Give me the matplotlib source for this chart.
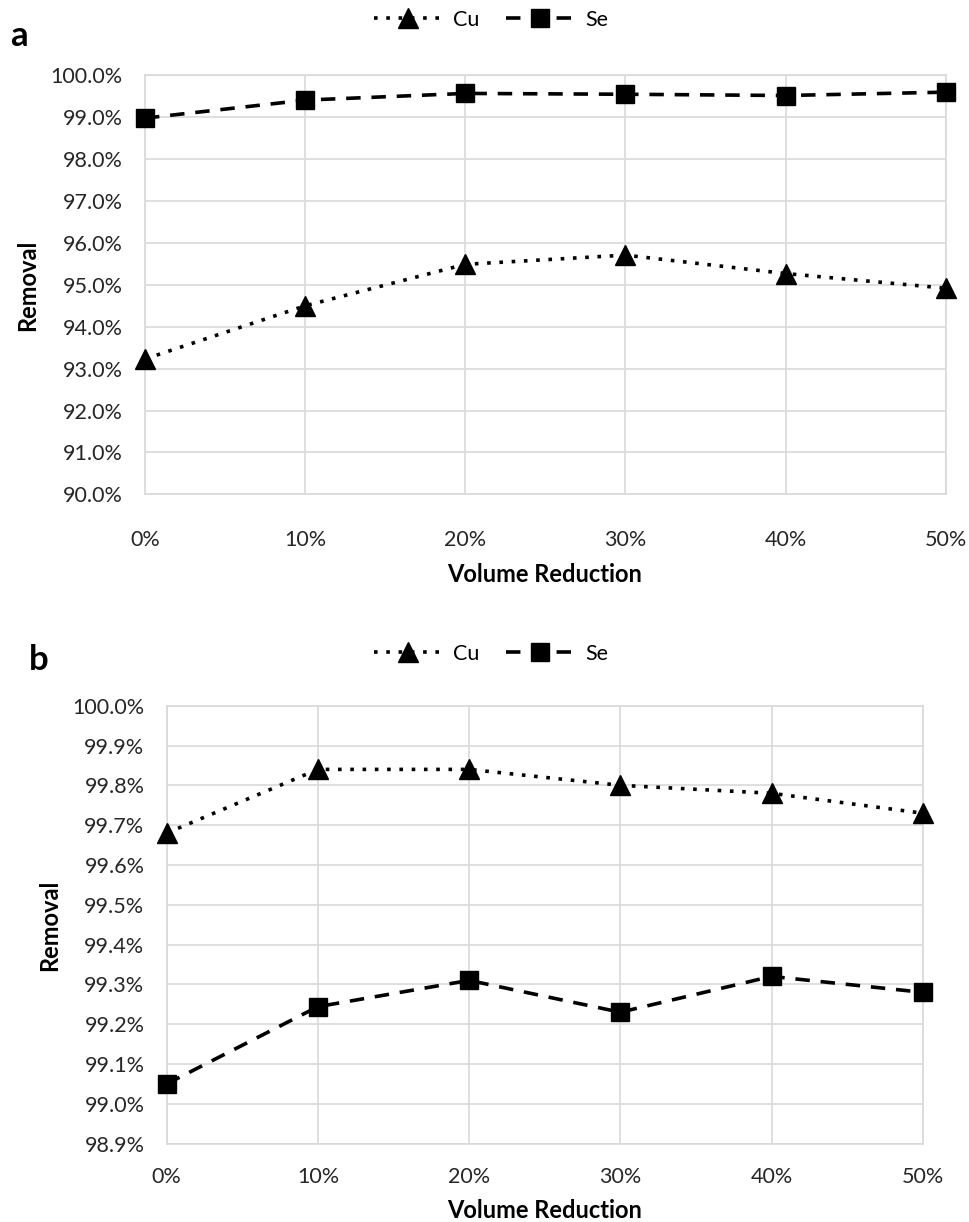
import matplotlib.pyplot as plt
from matplotlib.ticker import FuncFormatter
from matplotlib.lines import Line2D

plt.rcParams['font.family'] = ['Lato', 'DejaVu Sans']

# data
volume_reduction = [0, 10, 20, 30, 40, 50]
x_labels = ["0%", "10%", "20%", "30%", "40%", "50%"]

cu_a = [93.23, 94.50, 95.49, 95.71, 95.27, 94.92]
se_a = [98.98, 99.41, 99.57, 99.55, 99.52, 99.60]

cu_b = [99.68, 99.84, 99.84, 99.80, 99.78, 99.73]
se_b = [99.05, 99.244, 99.31, 99.23, 99.32, 99.28]

W, H = 969, 1222
fig = plt.figure(figsize=(W / 100, H / 100), dpi=100)

GRID = "#d9d9d9"
TICK_FS = 15.5


def px_axes(l, t, r, b):
    return fig.add_axes([l / W, 1 - b / H, (r - l) / W, (b - t) / H])


def style(ax, ylo, yhi, step, fmt, xpad):
    ax.set_xlim(0, 50)
    ax.set_ylim(ylo, yhi)
    ax.set_xticks(volume_reduction)
    ax.set_xticklabels(x_labels)
    n = int(round((yhi - ylo) / step))
    ax.set_yticks([ylo + i * step for i in range(n + 1)])
    ax.yaxis.set_major_formatter(FuncFormatter(lambda v, p: fmt.format(v)))
    ax.grid(True, color=GRID, lw=1.2)
    ax.set_axisbelow(True)
    for s in ax.spines.values():
        s.set_color(GRID)
        s.set_linewidth(1.2)
    ax.tick_params(axis="both", length=0, labelsize=TICK_FS, colors="#262626")
    ax.tick_params(axis="y", pad=16)
    ax.tick_params(axis="x", pad=xpad)


def draw(ax, cu, se):
    ax.plot(volume_reduction, cu, color="black", ls=(0, (1, 2.4)), lw=2.6,
            marker="^", ms=14, clip_on=False, zorder=3)
    ax.plot(volume_reduction, se, color="black", ls=(0, (4, 3)), lw=2.6,
            marker="s", ms=12.5, clip_on=False, zorder=3)


handles = [
    Line2D([], [], color="black", ls=(0, (1, 2.4)), lw=2.6, marker="^", ms=14),
    Line2D([], [], color="black", ls=(0, (4, 3)), lw=2.6, marker="s", ms=12.5),
]


def legend(y):
    fig.legend(handles, ["Cu", "Se"], loc="center", bbox_to_anchor=(491 / W, 1 - y / H),
               ncol=2, frameon=False, fontsize=TICK_FS, handlelength=3.2,
               columnspacing=1.2, handletextpad=0.5)


# panel a
ax1 = px_axes(145, 75.4, 945.7, 494.3)
style(ax1, 90.0, 100.0, 1.0, "{:.1f}%", 26)
draw(ax1, cu_a, se_a)
legend(20)
fig.text(10 / W, 1 - 36 / H, "a", fontsize=25, fontweight="bold", va="center")
fig.text(545 / W, 1 - 574 / H, "Volume Reduction", fontsize=17, fontweight="bold",
         ha="center", va="center")
fig.text(28 / W, 1 - 285 / H, "Removal", fontsize=17, fontweight="bold",
         rotation=90, ha="center", va="center")

# panel b
ax2 = px_axes(166.7, 705.7, 922.7, 1143.6)
style(ax2, 98.9, 100.0, 0.1, "{:.1f}%", 17)
draw(ax2, cu_b, se_b)
legend(654)
fig.text(29 / W, 1 - 660 / H, "b", fontsize=25, fontweight="bold", va="center")
fig.text(545 / W, 1 - 1210 / H, "Volume Reduction", fontsize=17, fontweight="bold",
         ha="center", va="center")
fig.text(50 / W, 1 - 925 / H, "Removal", fontsize=17, fontweight="bold",
         rotation=90, ha="center", va="center")

fig.savefig("out.png", dpi=100)
